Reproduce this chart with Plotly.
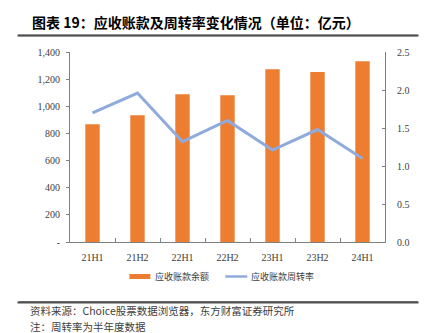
import plotly.graph_objects as go

categories = ["21H1", "21H2", "22H1", "22H2", "23H1", "23H2", "24H1"]
receivables = [868, 934, 1088, 1081, 1272, 1253, 1331]
turnover = [1.70, 1.96, 1.32, 1.60, 1.21, 1.48, 1.10]
left_ticks = [0, 200, 400, 600, 800, 1000, 1200, 1400]
left_labels = ["-", "200", "400", "600", "800", "1,000", "1,200", "1,400"]
right_ticks = [0, 0.5, 1.0, 1.5, 2.0, 2.5]
right_labels = ["0.0", "0.5", "1.0", "1.5", "2.0", "2.5"]
series_names = ["应收账款余额", "应收账款周转率"]

W, H = 427, 333
L, R, T, B = 69.5, 385, 52, 242

def px(x):
    return (x - L) / (R - L)

def py(y):
    return (B - y) / (B - T)

serif = "Liberation Serif"
cjk = "Noto Sans CJK SC"
BAR_C = "#ED7D31"
LINE_C = "#8FAADC"
RULE_C = "#505050"

fig = go.Figure()
fig.add_trace(go.Bar(
    x=categories, y=receivables, name=series_names[0],
    marker=dict(color=BAR_C, line=dict(width=0)), width=0.32, yaxis="y",
))
fig.add_trace(go.Scatter(
    x=categories, y=turnover, name=series_names[1], mode="lines",
    line=dict(color=LINE_C, width=3), yaxis="y2",
))

fig.update_layout(
    width=W, height=H,
    margin=dict(l=L, r=W - R, t=T, b=H - B),
    paper_bgcolor="white", plot_bgcolor="white",
    showlegend=False,
    xaxis=dict(type="category", showline=True, linecolor="#808080", linewidth=1,
               ticks="inside", ticklen=4, tickcolor="#808080", tickson="boundaries",
               tickfont=dict(family=serif, size=10, color="#404040"),
               ticklabelstandoff=6, showgrid=False, range=[-0.5, 6.5]),
    yaxis=dict(range=[0, 1400], tickvals=left_ticks, ticktext=left_labels,
               showline=True, linecolor="#808080", linewidth=1, ticks="outside",
               ticklen=3, tickcolor="#808080", showgrid=False, zeroline=False,
               tickfont=dict(family=serif, size=10, color="#404040"), ticklabelstandoff=4),
    yaxis2=dict(range=[0, 2.5], tickvals=right_ticks, ticktext=right_labels,
                overlaying="y", side="right", showline=True, linecolor="#808080",
                linewidth=1, ticks="inside", ticklen=3, tickcolor="#808080",
                showgrid=False, zeroline=False,
                tickfont=dict(family=serif, size=10, color="#404040"), ticklabelstandoff=9),
)

# manual legend
ly = 276.5
fig.add_shape(type="rect", xref="paper", yref="paper", x0=px(129), x1=px(150),
              y0=py(ly + 2.5), y1=py(ly - 2.5), fillcolor=BAR_C, line=dict(width=0))
fig.add_annotation(text=series_names[0], xref="paper", yref="paper", x=px(153), y=py(ly),
                   xanchor="left", yanchor="middle", showarrow=False,
                   font=dict(family=cjk, size=9, color="#404040"))
fig.add_shape(type="line", xref="paper", yref="paper", x0=px(225), x1=px(247),
              y0=py(ly), y1=py(ly), line=dict(color=LINE_C, width=2.5))
fig.add_annotation(text=series_names[1], xref="paper", yref="paper", x=px(249), y=py(ly),
                   xanchor="left", yanchor="middle", showarrow=False,
                   font=dict(family=cjk, size=9, color="#404040"))

fig.add_annotation(text="<b>图表 19：应收账款及周转率变化情况（单位：亿元）</b>",
                   xref="paper", yref="paper", x=px(29), y=py(22), xanchor="left",
                   yanchor="middle", showarrow=False,
                   font=dict(family=cjk, size=14, color="black"))
fig.add_annotation(text="资料来源：Choice股票数据浏览器，东方财富证券研究所",
                   xref="paper", yref="paper", x=px(27), y=py(310.5), xanchor="left",
                   yanchor="middle", showarrow=False,
                   font=dict(family=cjk, size=10.5, color="#404040"))
fig.add_annotation(text="注：周转率为半年度数据",
                   xref="paper", yref="paper", x=px(27), y=py(326.5), xanchor="left",
                   yanchor="middle", showarrow=False,
                   font=dict(family=cjk, size=10.5, color="#404040"))

# rules under title and above footer, added last so they sit on top
for yy in [35.5, 302]:
    fig.add_shape(type="line", xref="paper", yref="paper", x0=px(18), x1=px(418),
                  y0=py(yy), y1=py(yy), line=dict(color=RULE_C, width=1.5))
    fig.add_annotation(text=" ", xref="paper", yref="paper", x=px(218), y=py(yy),
                       xanchor="center", yanchor="middle", showarrow=False,
                       width=400, height=1, borderpad=0, bgcolor=RULE_C,
                       font=dict(size=1, color=RULE_C))

fig.write_html("out.html")
